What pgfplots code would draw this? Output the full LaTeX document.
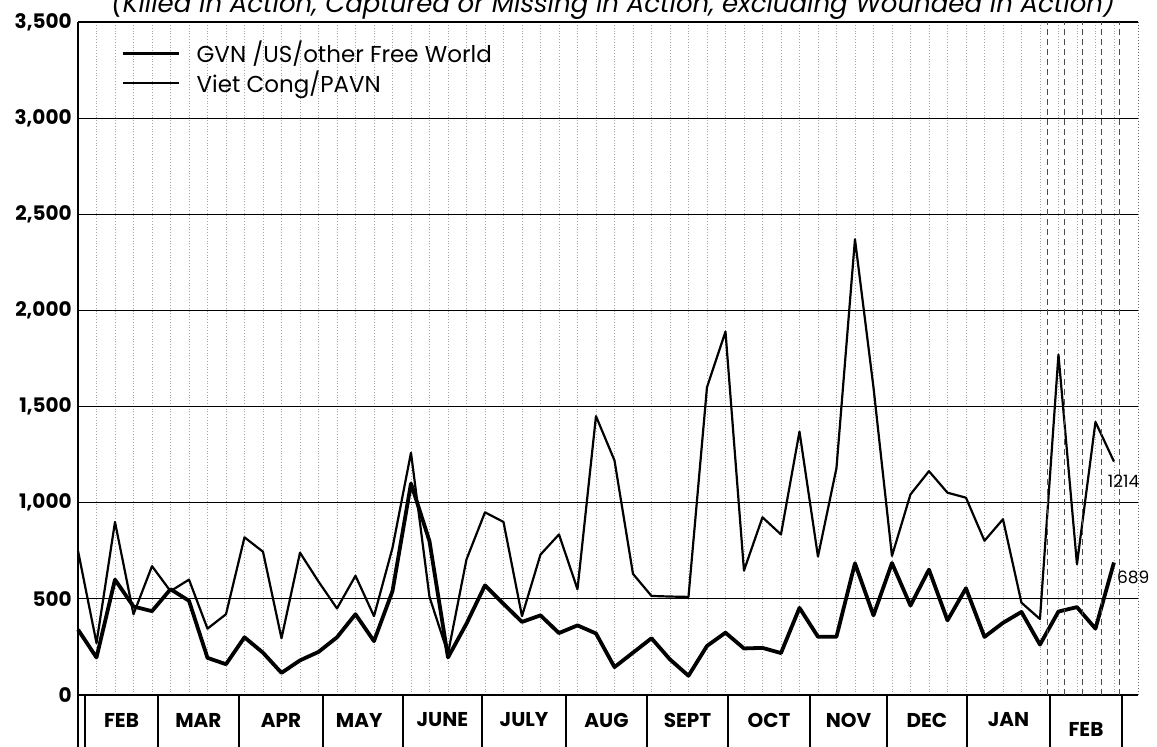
\documentclass[border=0pt]{standalone}
\usepackage{fontspec}
\setmainfont{Poppins}
\usepackage{pgfplots}
\pgfplotsset{compat=1.18}
\usepackage{pgfplotstable}
\pgfplotstableread{
i gvn vc
0 340 750
1 195 270
2 600 900
3 460 420
4 436 670
5 550 540
6 490 600
7 193 345
8 160 420
9 300 820
10 220 745
11 115 295
12 180 740
13 224 590
14 300 450
15 420 620
16 280 410
17 540 765
18 1100 1260
19 800 510
20 195 215
21 371 705
22 570 950
23 474 900
24 380 410
25 414 730
26 322 835
27 362 550
28 320 1450
29 145 1220
30 220 630
31 295 515
32 185 512
33 100 510
34 255 1600
35 324 1890
36 242 647
37 245 924
38 218 835
39 453 1370
40 303 720
41 303 1180
42 685 2370
43 414 1600
44 686 723
45 465 1043
46 652 1164
47 388 1052
48 555 1026
49 302 802
50 375 914
51 432 480
52 262 395
53 434 1770
54 457 680
55 345 1420
56 689 1214
}\data
\begin{document}
\begin{tikzpicture}
\path[use as bounding box] (0,0) rectangle (578.5pt,373.5pt);
\begin{axis}[
 scale only axis, width=530pt, height=336.5pt,
 at={(39pt,26pt)}, anchor=south west,
 xmin=0, xmax=57.3, ymin=0, ymax=3500,
 axis line style={draw=none},
 xtick={0,...,56}, xticklabel={\mbox{}},
 ytick={0,500,...,3500},
 yticklabels={0,500,{1,000},{1,500},{2,000},{2,500},{3,000},{3,500}},
 major tick length=0pt,
 xmajorgrids, ymajorgrids,
 x grid style={densely dotted, black!35, line width=0.4pt},
 y grid style={black, line width=0.6pt},
 yticklabel style={font=\bfseries\fontsize{10}{12}\selectfont, inner sep=0pt, xshift=-3pt},
 /pgf/number format/assume math mode=true,
 clip=false,
 legend style={draw=none, fill=none, at={(rel axis cs:0.04,0.978)}, anchor=north west,
   font=\fontsize{11.5}{13}\selectfont, row sep=-1.5pt, inner sep=0pt,
   /tikz/every odd column/.append style={column sep=6pt}},
 legend cell align=left,
 legend image code/.code={\draw[#1] (0pt,0pt) -- (28pt,0pt);},
]
\addplot[black, line width=1.9pt, line join=round] table[x=i,y=gvn]{\data};
\addlegendentry{GVN /US/other Free World}
\addplot[black, line width=1.1pt, line join=round] table[x=i,y=vc]{\data};
\addlegendentry{Viet Cong/PAVN}
\pgfplotsinvokeforeach{0.38,4.32,8.70,13.24,17.57,21.84,26.38,30.76,35.14,39.57,43.73,48.05,52.54,56.43}{
  \draw[line width=0.7pt] (axis cs:#1,0) -- ++(0,-30pt);
}
\pgfplotsinvokeforeach{52.4,53.3,54.3,55.3,56.3}{
  \draw[densely dashed, black!70, line width=0.5pt] (axis cs:#1,0) -- (axis cs:#1,3500);
}
\draw[line width=0.8pt] (axis cs:0,3500) -- (axis cs:0,0) -- ++(0,-30pt);
\draw[densely dotted, black!60, line width=0.5pt] (axis cs:57.3,0) -- (axis cs:57.3,3500);
\node[font=\bfseries\fontsize{10}{12}\selectfont, yshift=-12.5pt] at (axis cs:2.35,0) {FEB};
\node[font=\bfseries\fontsize{10}{12}\selectfont, yshift=-12.5pt] at (axis cs:6.51,0) {MAR};
\node[font=\bfseries\fontsize{10}{12}\selectfont, yshift=-12.5pt] at (axis cs:10.97,0) {APR};
\node[font=\bfseries\fontsize{10}{12}\selectfont, yshift=-12.5pt] at (axis cs:15.2,0) {MAY};
\node[font=\bfseries\fontsize{10}{12}\selectfont, yshift=-12.5pt] at (axis cs:19.70,0) {JUNE};
\node[font=\bfseries\fontsize{10}{12}\selectfont, yshift=-12.5pt] at (axis cs:24.11,0) {JULY};
\node[font=\bfseries\fontsize{10}{12}\selectfont, yshift=-12.5pt] at (axis cs:28.57,0) {AUG};
\node[font=\bfseries\fontsize{10}{12}\selectfont, yshift=-12.5pt] at (axis cs:32.95,0) {SEPT};
\node[font=\bfseries\fontsize{10}{12}\selectfont, yshift=-12.5pt] at (axis cs:37.36,0) {OCT};
\node[font=\bfseries\fontsize{10}{12}\selectfont, yshift=-12.5pt] at (axis cs:41.65,0) {NOV};
\node[font=\bfseries\fontsize{10}{12}\selectfont, yshift=-12.5pt] at (axis cs:45.89,0) {DEC};
\node[font=\bfseries\fontsize{10}{12}\selectfont, yshift=-12.5pt] at (axis cs:50.30,0) {JAN};
\node[font=\bfseries\fontsize{10}{12}\selectfont, yshift=-17pt] at (axis cs:54.49,0) {FEB};
\node[font=\fontsize{8.5}{10}\selectfont, anchor=west, inner sep=0pt] at (axis cs:55.65,1110) {1214};
\node[font=\fontsize{8.5}{10}\selectfont, anchor=west, inner sep=0pt] at (axis cs:56.15,610) {689};
\end{axis}
\node[anchor=base, font=\itshape\fontsize{13}{15}\selectfont] at (306.5pt,367pt)
  {(Killed in Action, Captured or Missing in Action, excluding Wounded in Action)};
\end{tikzpicture}
\end{document}
